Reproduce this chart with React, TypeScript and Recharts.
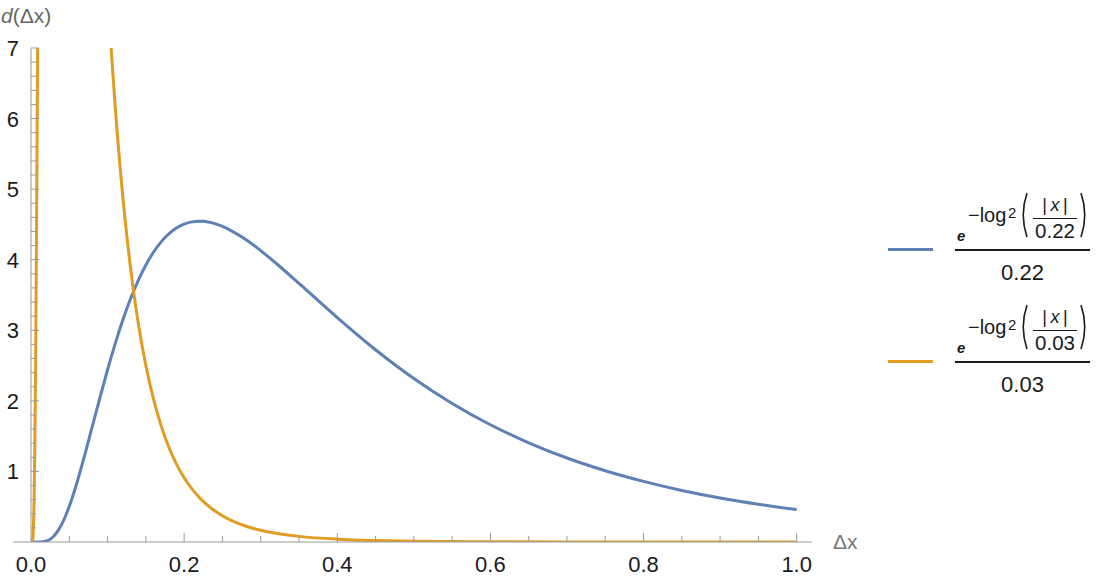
import React from 'react';
import { LineChart, Line, XAxis, YAxis, Legend } from 'recharts';

// ---- data ----
const blueX = [0, 0.01, 0.015, 0.02, 0.025, 0.03, 0.04, 0.05, 0.06, 0.07, 0.08, 0.09, 0.1, 0.11, 0.12, 0.13, 0.14, 0.15, 0.16, 0.17, 0.18, 0.19, 0.2, 0.21, 0.22, 0.225, 0.24, 0.25, 0.26, 0.28, 0.3, 0.32, 0.35, 0.4, 0.45, 0.5, 0.55, 0.6, 0.65, 0.7, 0.75, 0.8, 0.85, 0.9, 0.95, 1.0];
const blueY = [0, 0.0003, 0.0033, 0.0145, 0.0401, 0.0859, 0.248, 0.506, 0.84, 1.225, 1.634, 2.044, 2.441, 2.811, 3.148, 3.446, 3.705, 3.926, 4.107, 4.253, 4.366, 4.449, 4.504, 4.536, 4.545, 4.544, 4.511, 4.472, 4.42, 4.289, 4.129, 3.95, 3.664, 3.18, 2.724, 2.316, 1.963, 1.661, 1.406, 1.19, 1.01, 0.859, 0.731, 0.624, 0.535, 0.459];

const orangeX = [0, 0.001, 0.002, 0.003, 0.004, 0.005, 0.006, 0.007, 0.008, 0.0085, 0.009, 0.0095, 0.01, 0.02, 0.03, 0.04, 0.05, 0.06, 0.07, 0.08, 0.09, 0.095, 0.1, 0.105, 0.11, 0.115, 0.12, 0.125, 0.13, 0.135, 0.14, 0.15, 0.16, 0.17, 0.18, 0.19, 0.2, 0.21, 0.22, 0.23, 0.24, 0.25, 0.26, 0.27, 0.28, 0.3, 0.32, 0.35, 0.4, 0.45, 0.5, 0.6, 0.7, 0.8, 0.9, 1.0];
const orangeY = [0, 0.0003, 0.0218, 0.166, 0.575, 1.343, 2.499, 4.013, 5.81, 6.79, 7.82, 8.88, 9.97, 28.28, 33.33, 30.69, 25.68, 20.62, 16.26, 12.74, 9.97, 8.83, 7.82, 6.94, 6.16, 5.48, 4.877, 4.35, 3.883, 3.47, 3.107, 2.499, 2.023, 1.645, 1.344, 1.103, 0.911, 0.756, 0.629, 0.526, 0.442, 0.372, 0.314, 0.267, 0.227, 0.166, 0.123, 0.0797, 0.0406, 0.0218, 0.0122, 0.0042, 0.0015, 0.0006, 0.0002, 0.0001];

const seriesScales = ['0.22', '0.03'];
const seriesNames = ['blue', 'orange'];
const seriesColors = ['#5E81B5', '#E19C24'];

const xTicks = [0, 0.05, 0.1, 0.15, 0.2, 0.25, 0.3, 0.35, 0.4, 0.45, 0.5, 0.55, 0.6, 0.65, 0.7, 0.75, 0.8, 0.85, 0.9, 0.95, 1.0];
const xMajorTicks = [0, 0.2, 0.4, 0.6, 0.8, 1.0];
const xMajorLabels = ['0.0', '0.2', '0.4', '0.6', '0.8', '1.0'];
const yTicks = [0, 0.2, 0.4, 0.6, 0.8, 1, 1.2, 1.4, 1.6, 1.8, 2, 2.2, 2.4, 2.6, 2.8, 3, 3.2, 3.4, 3.6, 3.8, 4, 4.2, 4.4, 4.6, 4.8, 5, 5.2, 5.4, 5.6, 5.8, 6, 6.2, 6.4, 6.6, 6.8, 7];
const yMajorTicks = [1, 2, 3, 4, 5, 6, 7];
const yMajorLabels = ['1', '2', '3', '4', '5', '6', '7'];

const blueData = blueX.map((x, i) => ({ x, y: blueY[i] }));
const orangeData = orangeX.map((x, i) => ({ x, y: orangeY[i] }));

const FONT = '"Liberation Sans", Arial, Helvetica, sans-serif';
const AXIS = '#9a9a9a';
const TEXT = '#1a1a1a';

const findIdx = (arr: number[], v: number) => arr.findIndex((t) => Math.abs(t - v) < 1e-6);

const XTick = (props: any) => {
  const { x, y, payload } = props;
  const v = payload.value as number;
  const mi = findIdx(xMajorTicks, v);
  const major = mi >= 0;
  return (
    <g>
      {v > 0 && <line x1={x} x2={x} y1={y} y2={y - (major ? 9 : 6)} stroke={AXIS} strokeWidth={1} />}
      {major && (
        <text x={x} y={y + 30} textAnchor="middle" fontSize={22} fontFamily={FONT} fill={TEXT}>
          {xMajorLabels[mi]}
        </text>
      )}
    </g>
  );
};

const YTick = (props: any) => {
  const { x, y, payload } = props;
  const v = payload.value as number;
  if (Math.abs(v) < 1e-9) {
    return <line x1={x - 18} x2={x} y1={y} y2={y} stroke={AXIS} strokeWidth={1} />;
  }
  const mi = findIdx(yMajorTicks, v);
  const major = mi >= 0;
  return (
    <g>
      <line x1={x} x2={x + (major ? 8 : 5)} y1={y} y2={y} stroke={AXIS} strokeWidth={1} />
      {major && (
        <text x={x - 12} y={y + 8} textAnchor="end" fontSize={22} fontFamily={FONT} fill={TEXT}>
          {yMajorLabels[mi]}
        </text>
      )}
    </g>
  );
};

const Paren = ({ left, flip }: { left: number; flip?: boolean }) => (
  <svg width={8} height={46} style={{ position: 'absolute', left, top: 2, overflow: 'visible' }}>
    <path d={flip ? 'M1 1 Q8.5 23 1 45' : 'M7 1 Q-0.5 23 7 45'} stroke={TEXT} strokeWidth={1.6} fill="none" />
  </svg>
);

const abs = (extra: React.CSSProperties): React.CSSProperties => ({
  position: 'absolute',
  lineHeight: 1,
  whiteSpace: 'nowrap',
  color: TEXT,
  fontFamily: FONT,
  ...extra,
});

const LegendEntry = ({ color, scale, top }: { color: string; scale: string; top: number }) => (
  <div style={{ position: 'absolute', left: 0, top, width: 227, height: 112 }}>
    <div style={{ position: 'absolute', left: 8, top: 58, width: 45, height: 3, background: color }} />
    <span style={abs({ left: 77, top: 37.5, fontSize: 15, fontStyle: 'italic', fontWeight: 700 })}>e</span>
    <span style={abs({ left: 88, top: 15, fontSize: 20 })}>−log</span>
    <span style={abs({ left: 128, top: 14.5, fontSize: 15 })}>2</span>
    <Paren left={140} />
    <div style={{ position: 'absolute', left: 153, top: 0, width: 44, height: 50 }}>
      <span style={abs({ left: -10, width: 64, textAlign: 'center', top: 5.5, fontSize: 18 })}>
        |{'\u2009'}<i>x</i>{'\u2009'}|
      </span>
      <div style={{ position: 'absolute', left: 0, top: 27.5, width: 44, height: 1.5, background: TEXT }} />
      <span style={abs({ left: -10, width: 64, textAlign: 'center', top: 30.5, fontSize: 20.5 })}>{scale}</span>
    </div>
    <Paren left={200} flip />
    <div style={{ position: 'absolute', left: 75, top: 59, width: 135, height: 2, background: TEXT }} />
    <span style={abs({ left: 75, width: 135, textAlign: 'center', top: 71.5, fontSize: 22 })}>{scale}</span>
  </div>
);

const LegendContent = (props: any) => {
  const payload = (props.payload || []) as any[];
  return (
    <div style={{ position: 'relative', width: 227, height: 224 }}>
      {payload.map((p, i) => (
        <LegendEntry
          key={i}
          color={p.color}
          scale={seriesScales[seriesNames.indexOf(p.value)]}
          top={i * 112}
        />
      ))}
    </div>
  );
};

const YLabel = (props: any) => {
  const vb = props.viewBox || { x: 0, y: 48 };
  return (
    <text x={vb.x + 1} y={vb.y - 25} fontSize={21} fontFamily={FONT} fill="#666">
      <tspan fontStyle="italic">d</tspan>
      <tspan>(Δx)</tspan>
    </text>
  );
};

const XLabel = (props: any) => {
  const vb = props.viewBox || { x: 31, y: 542, width: 781 };
  return (
    <text x={vb.x + vb.width + 21} y={vb.y + 7} fontSize={21} fontFamily={FONT} fill="#777">
      Δx
    </text>
  );
};

export default function App() {
  return (
    <div style={{ position: 'absolute', left: 0, top: 0, width: 1107, height: 585, background: '#fff' }}>
      <LineChart width={1107} height={585} margin={{ top: 48, right: 68, bottom: 0, left: 0 }}>
        <XAxis
          type="number"
          dataKey="x"
          domain={[0, 1.02]}
          ticks={xTicks}
          interval={0}
          height={43}
          tickSize={0}
          tickMargin={0}
          tickLine={false}
          axisLine={{ stroke: AXIS, strokeWidth: 1 }}
          tick={<XTick />}
          label={<XLabel />}
          allowDataOverflow
        />
        <YAxis
          type="number"
          domain={[0, 7]}
          ticks={yTicks}
          interval={0}
          width={31}
          tickSize={0}
          tickMargin={0}
          tickLine={false}
          axisLine={{ stroke: AXIS, strokeWidth: 1 }}
          tick={<YTick />}
          label={<YLabel />}
          allowDataOverflow
        />
        <Legend
          layout="vertical"
          align="right"
          verticalAlign="middle"
          content={<LegendContent />}
          wrapperStyle={{ left: 880, top: 190, width: 227, height: 224 }}
        />
        <Line
          data={blueData}
          dataKey="y"
          name="blue"
          type="monotone"
          stroke={seriesColors[0]}
          strokeWidth={3}
          dot={false}
          isAnimationActive={false}
        />
        <Line
          data={orangeData}
          dataKey="y"
          name="orange"
          type="monotone"
          stroke={seriesColors[1]}
          strokeWidth={3}
          dot={false}
          isAnimationActive={false}
        />
      </LineChart>
    </div>
  );
}
